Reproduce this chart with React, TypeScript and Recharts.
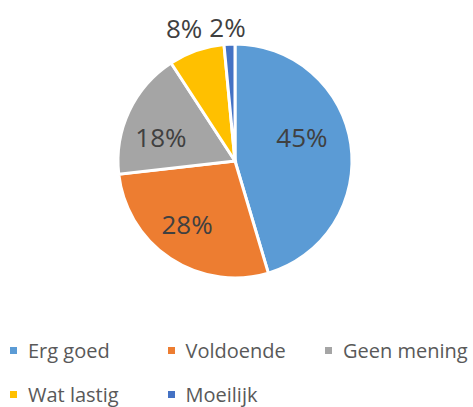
import React from "react";
import { PieChart, Pie, Cell, Legend } from "recharts";

const categories = ["Erg goed", "Voldoende", "Geen mening", "Wat lastig", "Moeilijk"];
const values = [45.4, 27.8, 17.6, 7.7, 1.5];
const colors = ["#5B9BD5", "#ED7D31", "#A5A5A5", "#FFC000", "#4472C4"];

const data = categories.map((name, i) => ({ name, value: values[i] }));

const FONT = "'Open Sans', sans-serif";
const RAD = Math.PI / 180;
// label placement: inside slices (radius fraction) or outside, plus fine nudges
const OUTSIDE = [false, false, false, true, true];
const NUDGE: [number, number][] = [
  [-3.6, -13.7],
  [-8.6, 3.5],
  [-9.5, 6.5],
  [-4, 0.7],
  [-0.8, 8.3],
];

const renderLabel = (props: any) => {
  const { cx, cy, midAngle, index, percent } = props;
  const R = 115;
  const r = OUTSIDE[index] ? R + 27 : R * 0.62;
  const x = cx + r * Math.cos(-midAngle * RAD) + NUDGE[index][0];
  const y = cy + r * Math.sin(-midAngle * RAD) + NUDGE[index][1];
  return (
    <text
      x={x}
      y={y}
      textAnchor="middle"
      dominantBaseline="central"
      fill="#404040"
      fontSize={26}
      fontFamily={FONT}
    >
      {`${Math.round(percent * 100 + 1e-6)}%`}
    </text>
  );
};

const renderLegend = () => {
  return (
    <div style={{ position: "relative", width: 473, height: 73 }}>
      {categories.map((name, i) => {
        const col = i % 3;
        const row = Math.floor(i / 3);
        return (
          <div
            key={name}
            style={{
              position: "absolute",
              left: 10 + col * 157.5,
              top: row * 43.5,
              height: 34,
              display: "flex",
              alignItems: "center",
              fontFamily: FONT,
              fontSize: 20,
              color: "#595959",
              whiteSpace: "nowrap",
            }}
          >
            <span
              style={{
                display: "inline-block",
                width: 7,
                height: 7,
                background: colors[i],
                marginRight: 11,
              }}
            />
            <span>{name}</span>
          </div>
        );
      })}
    </div>
  );
};

export default function App() {
  return (
    <div style={{ position: "absolute", left: 0, top: 0, background: "#fff" }}>
      <PieChart width={473} height={407} margin={{ top: 0, right: 0, bottom: 0, left: 0 }}>
        <Pie
          data={data}
          dataKey="value"
          nameKey="name"
          cx={235}
          cy={161}
          outerRadius={117}
          startAngle={90}
          endAngle={-270}
          stroke="#ffffff"
          strokeWidth={3}
          label={renderLabel}
          labelLine={false}
          isAnimationActive={false}
        >
          {data.map((d, i) => (
            <Cell key={d.name} fill={colors[i]} />
          ))}
        </Pie>
        <Legend
          content={renderLegend}
          wrapperStyle={{ position: "absolute", left: 0, top: 333.5, width: 473, height: 73 }}
        />
      </PieChart>
    </div>
  );
}
